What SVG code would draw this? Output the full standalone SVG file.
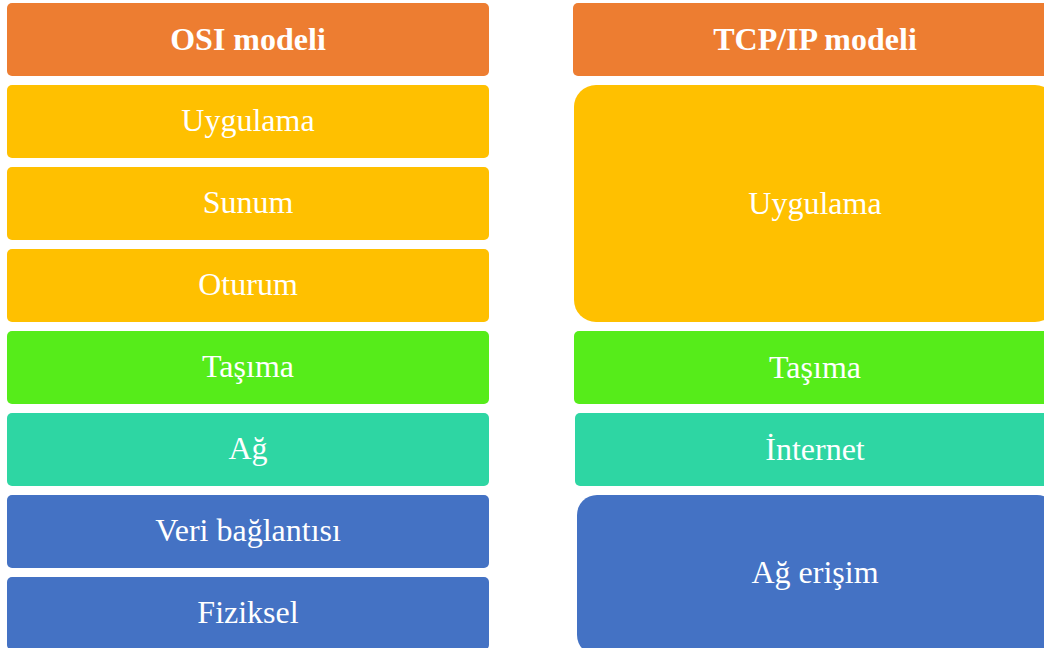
<svg xmlns="http://www.w3.org/2000/svg" width="1044" height="648" viewBox="0 0 1044 648">
  <style>
    .lbl { font-family: "Liberation Serif", "Times New Roman", serif; font-size: 32px; fill: #ffffff; text-anchor: middle; }
    .hdr { font-weight: bold; }
    .orange { fill: #ED7D31; }
    .yellow { fill: #FFC000; }
    .green { fill: #56EC1A; }
    .teal { fill: #2ED6A3; }
    .blue { fill: #4472C4; }
  </style>
  <rect width="1044" height="648" fill="#ffffff"/>

  <!-- OSI model column -->
  <g id="osi-header"><rect class="orange" x="7" y="3" width="482" height="73" rx="5"/><text class="lbl hdr" x="248" y="50">OSI modeli</text></g>
  <g id="osi-application"><rect class="yellow" x="7" y="85" width="482" height="73" rx="5"/><text class="lbl" x="248" y="131">Uygulama</text></g>
  <g id="osi-presentation"><rect class="yellow" x="7" y="167" width="482" height="73" rx="5"/><text class="lbl" x="248" y="213">Sunum</text></g>
  <g id="osi-session"><rect class="yellow" x="7" y="249" width="482" height="73" rx="5"/><text class="lbl" x="248" y="295">Oturum</text></g>
  <g id="osi-transport"><rect class="green" x="7" y="331" width="482" height="73" rx="5"/><text class="lbl" x="248" y="377">Taşıma</text></g>
  <g id="osi-network"><rect class="teal" x="7" y="413" width="482" height="73" rx="5"/><text class="lbl" x="248" y="459">Ağ</text></g>
  <g id="osi-datalink"><rect class="blue" x="7" y="495" width="482" height="73" rx="5"/><text class="lbl" x="248" y="541">Veri bağlantısı</text></g>
  <g id="osi-physical"><rect class="blue" x="7" y="577" width="482" height="73" rx="5"/><text class="lbl" x="248" y="623">Fiziksel</text></g>

  <!-- TCP/IP model column -->
  <g id="tcp-header"><rect class="orange" x="573" y="3" width="484" height="73" rx="5"/><text class="lbl hdr" x="815" y="50">TCP/IP modeli</text></g>
  <g id="tcp-application"><rect class="yellow" x="574" y="85" width="483" height="237" rx="22"/><text class="lbl" x="815" y="214">Uygulama</text></g>
  <g id="tcp-transport"><rect class="green" x="574" y="331" width="483" height="73" rx="5"/><text class="lbl" x="815" y="378">Taşıma</text></g>
  <g id="tcp-internet"><rect class="teal" x="575" y="413" width="482" height="73" rx="5"/><text class="lbl" x="815" y="460">İnternet</text></g>
  <g id="tcp-netaccess"><rect class="blue" x="577" y="495" width="480" height="160" rx="20"/><text class="lbl" x="815" y="583">Ağ erişim</text></g>

  <g id="connectors"/>
</svg>
